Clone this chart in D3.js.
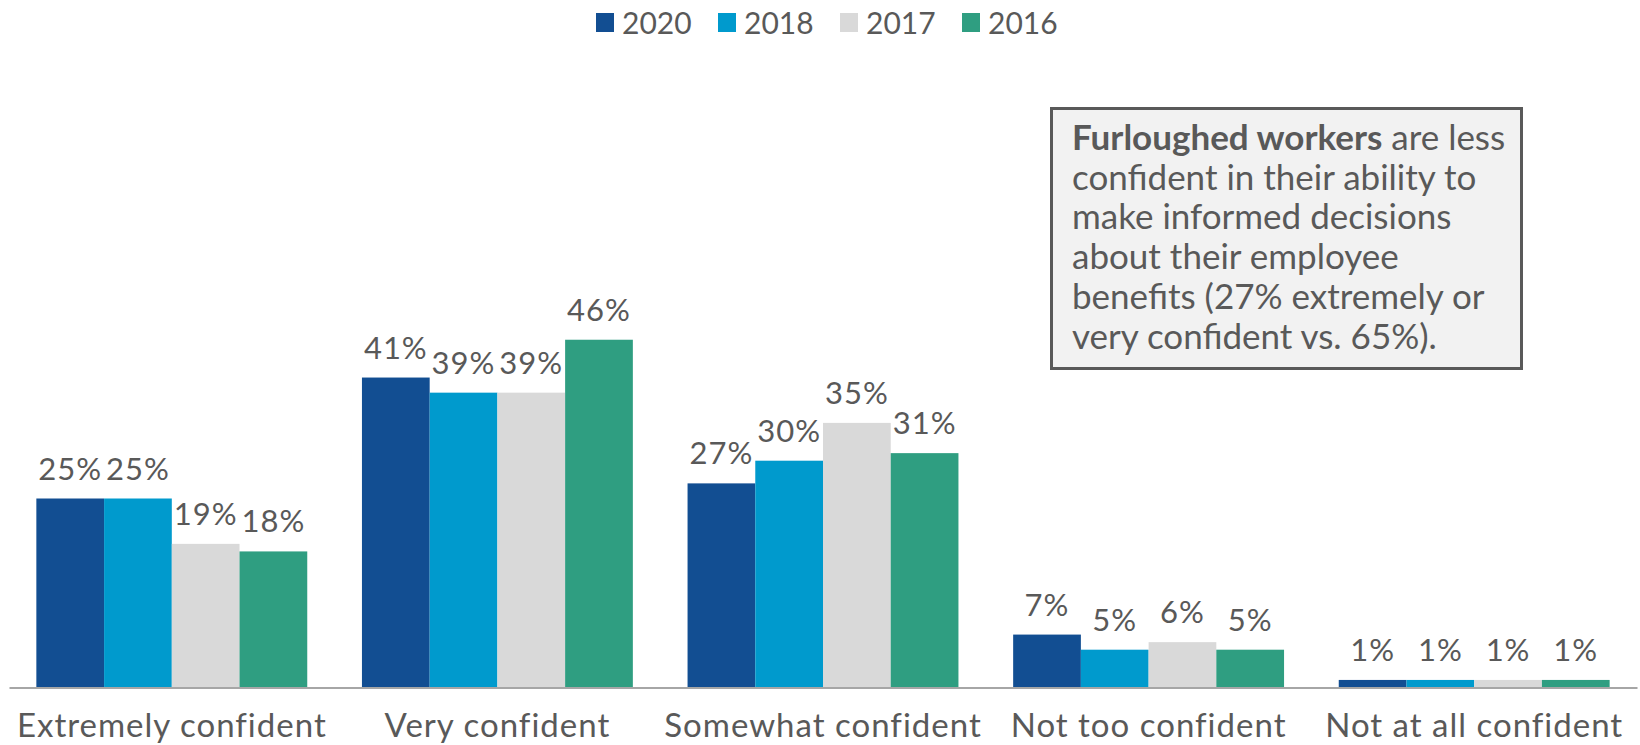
<!DOCTYPE html>
<html lang="en">

<head>
    <meta charset="UTF-8">
    <title>Confidence in benefits decisions</title>
    <style>
        body {
            margin: 0;
            background: #fff;
        }

        svg text {
            font-family: Lato, "Noto Sans", sans-serif;
            fill: #595959;
        }

        .barLabel {
            font-size: 31px;
            letter-spacing: 1px;
            text-anchor: middle;
        }

        .axis path,
        .axis line {
            fill: none;
        }

        .axis text {
            font-size: 33px;
            letter-spacing: 1px;
        }
    </style>
</head>

<body>
    <script src="https://d3js.org/d3.v7.min.js"></script>
    <script>
        const width = 1640;
        const height = 745;

        // data
        const categories = ['Extremely confident', 'Very confident', 'Somewhat confident', 'Not too confident', 'Not at all confident'];
        const years = ['2020', '2018', '2017', '2016'];
        const values2020 = [25, 41, 27, 7, 1];
        const values2018 = [25, 39, 30, 5, 1];
        const values2017 = [19, 39, 35, 6, 1];
        const values2016 = [18, 46, 31, 5, 1];
        const colors = ['#124e92', '#009acd', '#d9d9d9', '#2f9e81'];
        const noteBold = 'Furloughed workers';
        const noteLines = [' are less', 'confident in their ability to', 'make informed decisions', 'about their employee', 'benefits (27% extremely or', 'very confident vs. 65%).'];

        const series = [values2020, values2018, values2017, values2016];

        const baseline = 687.5;

        const xScale = d3.scaleBand()
            .domain(categories)
            .range([9, 1637])
            .paddingInner(0.168)
            .paddingOuter(0.084);

        const xInner = d3.scaleBand()
            .domain(years)
            .range([0, xScale.bandwidth()]);

        const yScale = d3.scaleLinear()
            .domain([0, 50])
            .range([baseline, baseline - 378]);

        const svg = d3.select('body').append('svg').attr('width', width).attr('height', height);

        // bars
        const groups = svg.selectAll('.group')
            .data(categories)
            .enter()
            .append('g')
            .attr('class', 'group')
            .attr('transform', function (d) {
                return 'translate(' + xScale(d) + ',0)';
            });

        groups.selectAll('rect')
            .data(function (d, i) {
                return years.map(function (y, k) {
                    return { year: y, value: series[k][i], color: colors[k] };
                });
            })
            .enter()
            .append('rect')
            .attr('x', function (d) {
                return xInner(d.year);
            })
            .attr('y', function (d) {
                return yScale(d.value);
            })
            .attr('width', xInner.bandwidth())
            .attr('height', function (d) {
                return baseline - yScale(d.value);
            })
            .attr('fill', function (d) {
                return d.color;
            });

        groups.selectAll('.barLabel')
            .data(function (d, i) {
                return years.map(function (y, k) {
                    return { year: y, value: series[k][i] };
                });
            })
            .enter()
            .append('text')
            .attr('class', 'barLabel')
            .attr('x', function (d) {
                return xInner(d.year) + xInner.bandwidth() / 2;
            })
            .attr('y', function (d) {
                return yScale(d.value) - 19;
            })
            .text(function (d) {
                return d.value + '%';
            });

        // x axis
        const xAxis = svg.append('g')
            .attr('class', 'axis')
            .attr('transform', 'translate(0,' + baseline + ')')
            .call(d3.axisBottom(xScale).tickSize(0).tickPadding(26));
        xAxis.select('.domain')
            .attr('stroke', '#a6a6a6')
            .attr('stroke-width', 2);
        xAxis.selectAll('text')
            .attr('fill', '#595959')
            .attr('dy', '0.71em');

        // legend
        const legend = svg.append('g').selectAll('g')
            .data(years)
            .enter()
            .append('g')
            .attr('transform', function (d, i) {
                return 'translate(' + (596 + i * 122) + ',13)';
            });
        legend.append('rect')
            .attr('width', 18)
            .attr('height', 19)
            .attr('fill', function (d, i) {
                return colors[i];
            });
        legend.append('text')
            .attr('x', 26)
            .attr('y', 21)
            .attr('font-size', 30)
            .text(function (d) {
                return d;
            });

        // note box
        svg.append('rect')
            .attr('x', 1051.5)
            .attr('y', 108.5)
            .attr('width', 470)
            .attr('height', 260)
            .attr('fill', '#f2f2f2')
            .attr('stroke', '#595959')
            .attr('stroke-width', 3);

        const note = svg.append('text')
            .attr('x', 1072)
            .attr('y', 150)
            .attr('font-size', 35);
        note.append('tspan')
            .attr('font-weight', 'bold')
            .text(noteBold);
        note.selectAll('.line')
            .data(noteLines)
            .enter()
            .append('tspan')
            .attr('class', 'line')
            .attr('x', function (d, i) {
                return i === 0 ? null : 1072;
            })
            .attr('dy', function (d, i) {
                return i === 0 ? null : 39.7;
            })
            .text(function (d) {
                return d;
            });
    </script>
</body>

</html>
